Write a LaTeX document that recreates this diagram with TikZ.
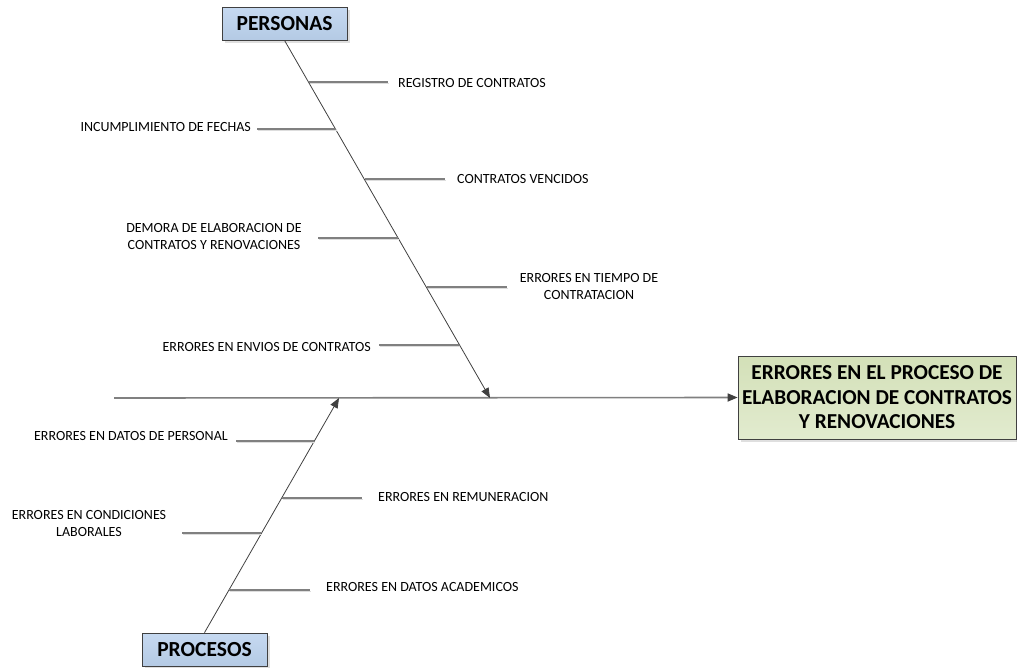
\documentclass[tikz,border=0pt]{standalone}
\usepackage{fontspec}
\setmainfont{Carlito}
\usetikzlibrary{arrows.meta,shadows}
\definecolor{bonecol}{HTML}{404040}
\definecolor{ribcol}{HTML}{808080}
\definecolor{ribshade}{HTML}{DDDDDD}
\definecolor{cattop}{HTML}{C6D9F1}
\definecolor{catbot}{HTML}{B4CAE4}
\definecolor{efftop}{HTML}{D3E0B8}
\definecolor{effbot}{HTML}{E2EBCF}
\begin{document}
\begin{tikzpicture}[x=1pt,y=-1pt,
  catbox/.style={draw=bonecol, line width=0.7pt, top color=cattop, bottom color=catbot,
    minimum width=125pt, minimum height=33pt, inner sep=0pt,
    font=\fontsize{21.5}{24}\selectfont\bfseries,
    drop shadow={shadow xshift=2.5pt, shadow yshift=-2.5pt, fill=black!25}},
  effbox/.style={draw=bonecol, line width=0.7pt, top color=efftop, bottom color=effbot,
    minimum width=278pt, minimum height=83pt, inner sep=0pt, align=center,
    font=\fontsize{21.3}{24.5}\selectfont\bfseries,
    drop shadow={shadow xshift=2.5pt, shadow yshift=-2.5pt, fill=black!25}},
  bone/.style={draw=bonecol, line width=0.8pt, -{Triangle[length=10pt,width=8pt]}},
  spine/.style={draw=ribcol, line width=1.6pt, -{Triangle[length=10pt,width=8pt,color=bonecol]}},
  rib/.style={draw=ribcol, line width=1.4pt,
    preaction={draw=ribshade, line width=1.2pt, transform canvas={shift={(0.8pt,-1.8pt)}}}},
  cause/.style={font=\fontsize{14}{17}\selectfont, align=center, inner sep=0pt}
]
\useasboundingbox (0,0) rectangle (1017,667);

% category and effect boxes
\node[catbox] (personas) at (284.5,23.5) {PERSONAS};
\node[catbox] (procesos) at (204.5,649.5) {PROCESOS};
\node[effbox] (effect) at (877,397.5) {ERRORES EN EL PROCESO DE\\ELABORACION DE CONTRATOS\\Y RENOVACIONES};

% spine and main bones
\coordinate (tail) at (114,398);
\coordinate (hp) at (490,398);
\coordinate (hq) at (339,398);
\draw[spine] (tail) -- (effect.west);
\draw[bone] (personas.south) -- (hp);
\draw[bone] (procesos.north) -- (hq);

% ribs on the PERSONAS bone
\coordinate (p1) at (309,82);
\coordinate (p2) at (336,129);
\coordinate (p3) at (365,179);
\coordinate (p4) at (398,238);
\coordinate (p5) at (427,287);
\coordinate (p6) at (459,345);
\draw[rib] (p1) -- +(79,0);
\draw[rib] (p2) -- +(-79,0);
\draw[rib] (p3) -- +(80,0);
\draw[rib] (p4) -- +(-80,0);
\draw[rib] (p5) -- +(80,0);
\draw[rib] (p6) -- +(-80,0);
\node[cause, anchor=west] (c1) at (398,83) {REGISTRO DE CONTRATOS};
\node[cause, anchor=east] (c2) at (251,127) {INCUMPLIMIENTO DE FECHAS};
\node[cause] (c4) at (214,236.5) {DEMORA DE ELABORACION DE\\CONTRATOS Y RENOVACIONES};
\node[cause, anchor=west] (c3) at (457,179) {CONTRATOS VENCIDOS};
\node[cause] (c5) at (589,286) {ERRORES EN TIEMPO DE\\CONTRATACION};
\node[cause, anchor=east] (c6) at (371,347) {ERRORES EN ENVIOS DE CONTRATOS};

% ribs on the PROCESOS bone
\coordinate (q1) at (314,441);
\coordinate (q2) at (282,498);
\coordinate (q3) at (261,533);
\coordinate (q4) at (229,590);
\draw[rib] (q1) -- +(-78,0);
\draw[rib] (q2) -- +(80,0);
\draw[rib] (q3) -- +(-79,0);
\draw[rib] (q4) -- +(81,0);
\node[cause, anchor=east] (d1) at (228,436) {ERRORES EN DATOS DE PERSONAL};
\node[cause, anchor=west] (d2) at (378,497) {ERRORES EN REMUNERACION};
\node[cause] (d3) at (89,523.5) {ERRORES EN CONDICIONES\\LABORALES};
\node[cause, anchor=west] (d4) at (326,587) {ERRORES EN DATOS ACADEMICOS};
\end{tikzpicture}
\end{document}
